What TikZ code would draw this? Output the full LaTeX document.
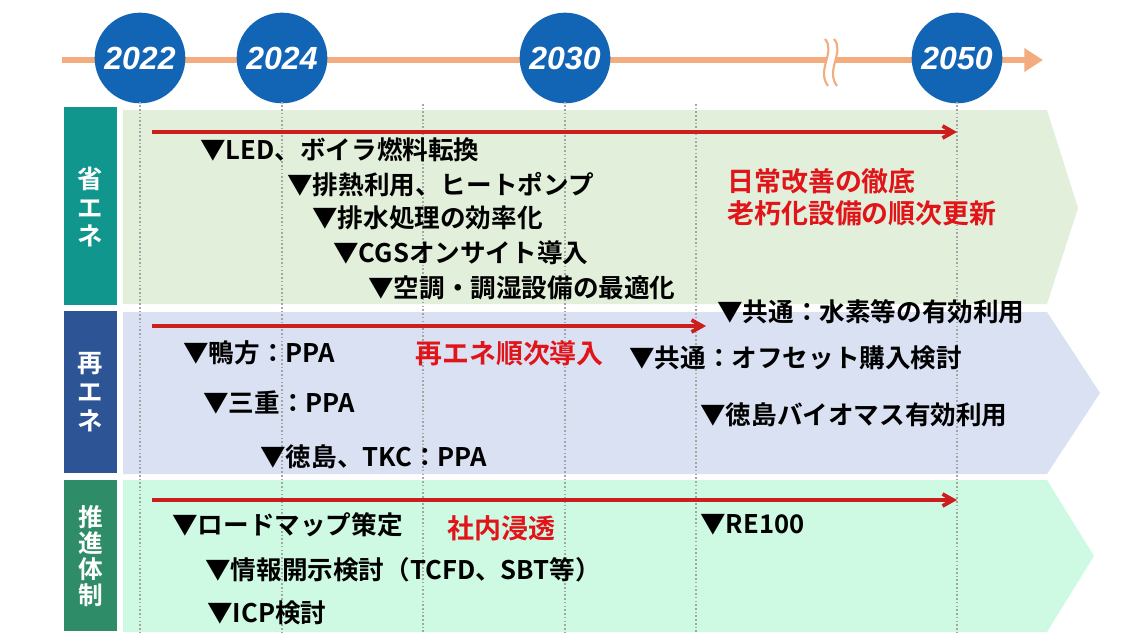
\documentclass[tikz,border=0pt]{standalone}
\usepackage{fontspec}
\setmainfont{Noto Sans CJK JP}[BoldFont={Noto Sans CJK JP Bold}]
\newfontfamily\yearfont{Liberation Sans}
\usetikzlibrary{arrows.meta}
\definecolor{tlorange}{RGB}{242,172,125}
\definecolor{circblue}{RGB}{18,100,180}
\definecolor{bandgreen}{RGB}{226,239,218}
\definecolor{bandblue}{RGB}{218,225,243}
\definecolor{bandmint}{RGB}{206,250,228}
\definecolor{boxteal}{RGB}{16,150,140}
\definecolor{boxblue}{RGB}{45,85,150}
\definecolor{boxgreen}{RGB}{46,140,104}
\definecolor{arrred}{RGB}{205,30,30}
\definecolor{txtred}{RGB}{225,20,25}
\definecolor{dotgray}{RGB}{165,165,165}
\begin{document}
\begin{tikzpicture}[x=0.75pt,y=-0.75pt,
  yearc/.style={circle, fill=circblue, minimum size=68pt, inner sep=0pt,
     text=white, font=\yearfont\fontsize{24}{26}\selectfont\bfseries\itshape},
  item/.style={anchor=west, inner sep=0pt, text=black,
     font=\fontsize{19.2}{21}\selectfont\bfseries},
  reditem/.style={anchor=west, inner sep=0pt, text=txtred, align=left,
     font=\fontsize{20.2}{23}\selectfont\bfseries},
  lanelbl/.style={inner sep=0pt, text=white, align=center},
  redarrow/.style={draw=arrred, line width=2.8pt, -{Straight Barb[length=8pt,width=9pt]}},
  guide/.style={draw=dotgray, line width=1.1pt, dash pattern=on 1.2pt off 1.6pt},
  tline/.style={draw=tlorange, line width=5.2pt}
]
\useasboundingbox (0,0) rectangle (1138,643);

% bands
\fill[bandgreen] (123,110) -- (1047,110) -- (1078,208) -- (1047,304) -- (123,304) -- cycle;
\fill[bandblue] (123,312) -- (1047,312) -- (1100,393) -- (1047,474) -- (123,474) -- cycle;
\fill[bandmint] (123,480) -- (1047,480) -- (1094,556) -- (1047,632) -- (123,632) -- cycle;

% lane label boxes
\fill[boxteal] (64,107) rectangle (117,305);
\fill[boxblue] (64,311) rectangle (117,473);
\fill[boxgreen] (64,480) rectangle (117,631);
\node[lanelbl, font=\fontsize{19}{21.5}\selectfont\bfseries] (l1) at (90.5,207) {省\\エ\\ネ};
\node[lanelbl, font=\fontsize{19}{21.5}\selectfont\bfseries] (l2) at (90.5,392) {再\\エ\\ネ};
\node[lanelbl, font=\fontsize{18.5}{19.5}\selectfont\bfseries] (l3) at (90.5,556) {推\\進\\体\\制};

% timeline
\draw[tline, -{Triangle[length=14pt,width=17pt]}] (62,60) -- (1043,60);
\fill[white] (827,50) rectangle (835,70);
\draw[draw=tlorange, line width=1.6pt] (825,39) .. controls (836,52) and (816,70) .. (828,86);
\draw[draw=tlorange, line width=1.6pt] (834,39) .. controls (845,52) and (825,70) .. (837,86);

% year circles
\node[yearc] (y2022) at (140,58) {2022};
\node[yearc] (y2024) at (282,58) {2024};
\node[yearc] (y2030) at (565,58) {2030};
\node[yearc] (y2050) at (957,58) {2050};

% guide lines
\coordinate (g3a) at (423,104); \coordinate (g3b) at (423,632);
\coordinate (g5a) at (696,104); \coordinate (g5b) at (696,632);
\draw[guide] (y2022.south) ++(0,-2) -- (140,632);
\draw[guide] (y2024.south) ++(0,-2) -- (282,632);
\draw[guide] (g3a) -- (g3b);
\draw[guide] (y2030.south) ++(0,-2) -- (565,632);
\draw[guide] (g5a) -- (g5b);
\draw[guide] (y2050.south) ++(0,-2) -- (957,632);

% red arrows
\coordinate (r1s) at (152,132); \coordinate (r1e) at (957,132);
\coordinate (r2s) at (152,326); \coordinate (r2e) at (706,326);
\coordinate (r3s) at (152,500); \coordinate (r3e) at (957,500);
\draw[redarrow] (r1s) -- (r1e);
\draw[redarrow] (r2s) -- (r2e);
\draw[redarrow] (r3s) -- (r3e);

% 省エネ items
\node[item] (a1) at (200,150) {▼LED、ボイラ燃料転換};
\node[item] (a2) at (287,185) {▼排熱利用、ヒートポンプ};
\node[item] (a3) at (312,218) {▼排水処理の効率化};
\node[item] (a4) at (333,253) {▼CGSオンサイト導入};
\node[item] (a5) at (368,288) {▼空調・調湿設備の最適化};
\node[reditem] (a6) at (727,181) {日常改善の徹底};
\node[reditem] (a7) at (727,213) {老朽化設備の順次更新};

% 再エネ items
\node[item] (b0) at (717,312) {▼共通：水素等の有効利用};
\node[item] (b1) at (183,353) {▼鴨方：PPA};
\node[reditem] (b2) at (415,353) {再エネ順次導入};
\node[item] (b3) at (629,358) {▼共通：オフセット購入検討};
\node[item] (b4) at (203,402) {▼三重：PPA};
\node[item] (b5) at (700,415) {▼徳島バイオマス有効利用};
\node[item] (b6) at (260,457) {▼徳島、TKC：PPA};

% 推進体制 items
\node[item] (c1) at (172,525) {▼ロードマップ策定};
\node[reditem] (c2) at (447,528) {社内浸透};
\node[item] (c3) at (700,525) {▼RE100};
\node[item] (c4) at (205,570) {▼情報開示検討（TCFD、SBT等）};
\node[item] (c5) at (207,613) {▼ICP検討};
\end{tikzpicture}
\end{document}
